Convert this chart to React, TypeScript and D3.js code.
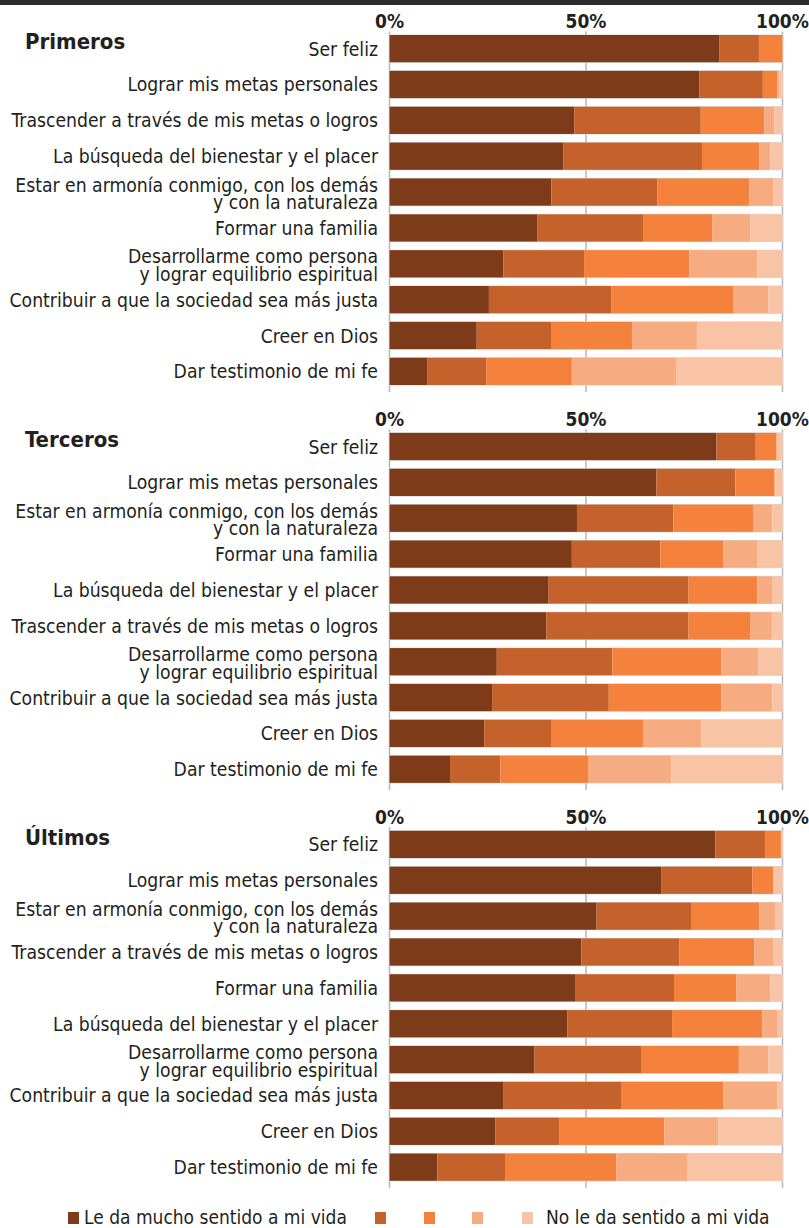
import React from 'react'
import * as d3 from 'd3'

const WIDTH = 809
const HEIGHT = 1228

const legendLabels = ['Le da mucho sentido a mi vida', '', '', '', 'No le da sentido a mi vida']
const colors = ['#7e3b1a', '#c5612a', '#f4823c', '#f6ab80', '#f9c4a5']
const tickValues = [0, 50, 100]

const panelTitles = ['Primeros', 'Terceros', 'Últimos']

const primerosLabels = [
  'Ser feliz',
  'Lograr mis metas personales',
  'Trascender a través de mis metas o logros',
  'La búsqueda del bienestar y el placer',
  'Estar en armonía conmigo, con los demás\ny con la naturaleza',
  'Formar una familia',
  'Desarrollarme como persona\ny lograr equilibrio espiritual',
  'Contribuir a que la sociedad sea más justa',
  'Creer en Dios',
  'Dar testimonio de mi fe',
]
const primerosValues = [
  [84, 10, 6, 0, 0],
  [78.8, 16.2, 3.7, 0.5, 0.8],
  [47, 32.2, 16.2, 2.5, 2.1],
  [44.2, 35.3, 14.6, 2.8, 3.1],
  [41.2, 27, 23.4, 6.1, 2.3],
  [37.7, 26.8, 17.7, 9.7, 8.1],
  [29, 20.5, 26.8, 17.3, 6.4],
  [25.3, 31.2, 30.9, 9, 3.6],
  [22.2, 18.9, 20.6, 16.6, 21.7],
  [9.7, 14.9, 21.8, 26.5, 27.1],
]

const tercerosLabels = [
  'Ser feliz',
  'Lograr mis metas personales',
  'Estar en armonía conmigo, con los demás\ny con la naturaleza',
  'Formar una familia',
  'La búsqueda del bienestar y el placer',
  'Trascender a través de mis metas o logros',
  'Desarrollarme como persona\ny lograr equilibrio espiritual',
  'Contribuir a que la sociedad sea más justa',
  'Creer en Dios',
  'Dar testimonio de mi fe',
]
const tercerosValues = [
  [83.2, 10, 5.2, 0.4, 1.2],
  [67.9, 20.1, 10, 0, 2],
  [47.7, 24.5, 20.3, 4.9, 2.6],
  [46.4, 22.5, 16, 8.8, 6.3],
  [40.5, 35.6, 17.5, 3.9, 2.5],
  [39.9, 36.2, 15.8, 5.4, 2.7],
  [27.3, 29.4, 27.7, 9.4, 6.2],
  [26.1, 29.7, 28.6, 13, 2.6],
  [24.1, 17, 23.4, 14.8, 20.7],
  [15.4, 12.8, 22.3, 21.2, 28.3],
]

const ultimosLabels = [
  'Ser feliz',
  'Lograr mis metas personales',
  'Estar en armonía conmigo, con los demás\ny con la naturaleza',
  'Trascender a través de mis metas o logros',
  'Formar una familia',
  'La búsqueda del bienestar y el placer',
  'Desarrollarme como persona\ny lograr equilibrio espiritual',
  'Contribuir a que la sociedad sea más justa',
  'Creer en Dios',
  'Dar testimonio de mi fe',
]
const ultimosValues = [
  [82.9, 12.8, 3.9, 0, 0.4],
  [69.1, 23.2, 5.3, 0, 2.4],
  [52.7, 24.2, 17.2, 4, 1.9],
  [48.8, 25, 19, 4.8, 2.4],
  [47.2, 25.2, 15.9, 8.6, 3.1],
  [45.3, 26.6, 22.9, 3.8, 1.4],
  [36.9, 27.1, 24.9, 7.5, 3.6],
  [28.9, 30.2, 25.8, 13.8, 1.3],
  [26.9, 16.4, 26.6, 13.8, 16.3],
  [12.2, 17.2, 28.3, 18, 24.3],
]

const FONT = '"Liberation Sans Narrow", "DejaVu Sans Condensed", "Roboto Condensed", "Liberation Sans", sans-serif'

const panels = [
  { title: panelTitles[0], labels: primerosLabels, values: primerosValues },
  { title: panelTitles[1], labels: tercerosLabels, values: tercerosValues },
  { title: panelTitles[2], labels: ultimosLabels, values: ultimosValues },
]

const x = d3.scaleLinear().domain([0, 1]).range([389.5, 782.5])
const xPct = d3.scaleLinear().domain([0, 100]).range([389.5, 782.5])

const Panel: React.FC<{ title: string; labels: string[]; values: number[][]; top: number }> = ({
  title,
  labels,
  values,
  top,
}) => {
  const rows = values.map((v, i) => ({ label: labels[i], v }))
  const keys = d3.range(5)
  const stack = d3
    .stack<{ label: string; v: number[] }, number>()
    .keys(keys)
    .value((d, k) => d.v[k])
    .offset(d3.stackOffsetExpand)
  const series = stack(rows)

  const y = d3
    .scaleBand()
    .domain(labels)
    .range([top, top + 358.6])
    .paddingInner(0.24)
    .paddingOuter(0.12)

  const firstBar = y(labels[0]) as number
  const lastBottom = (y(labels[labels.length - 1]) as number) + y.bandwidth()

  return (
    <g>
      <text x={25} y={firstBar + 14} fontFamily={FONT} fontWeight="bold" fontSize={22} fill="#231f20">
        {title}
      </text>
      {tickValues.map((t) => (
        <g key={t}>
          <line
            x1={xPct(t)}
            x2={xPct(t)}
            y1={firstBar - 3.5}
            y2={lastBottom + 7}
            stroke="#b3b7bb"
            strokeWidth={1.5}
          />
          <text
            x={xPct(t)}
            y={firstBar - 7}
            textAnchor="middle"
            fontFamily={FONT}
            fontWeight="bold"
            fontSize={19}
            fill="#231f20"
          >
            {t}%
          </text>
        </g>
      ))}
      {rows.map((r) => (
        <rect
          key={'bg' + r.label}
          x={x(0)}
          y={y(r.label)}
          width={x(1) - x(0)}
          height={y.bandwidth()}
          fill="none"
          stroke="#d4d4d4"
          strokeWidth={1}
        />
      ))}
      {series.map((s, si) => (
        <g key={si} fill={colors[si]}>
          {s.map((d) => (
            <rect
              key={d.data.label}
              x={x(d[0])}
              y={y(d.data.label)}
              width={Math.max(0, x(d[1]) - x(d[0]))}
              height={y.bandwidth()}
            />
          ))}
        </g>
      ))}
      {rows.map((r) => {
        const lines = r.label.split('\n')
        const cy = (y(r.label) as number) + y.bandwidth() / 2
        return (
          <text
            key={'lb' + r.label}
            x={378}
            textAnchor="end"
            fontFamily={FONT}
            fontSize={19.2}
            fill="#231f20"
          >
            {lines.map((ln, li) =>
              lines.length === 1 ? (
                <tspan key={li} x={378} y={cy + 7}>
                  {ln}
                </tspan>
              ) : (
                <tspan key={li} x={378} y={cy - 0.5 + li * 17.5}>
                  {ln}
                </tspan>
              ),
            )}
          </text>
        )
      })}
    </g>
  )
}

const legendSquares = [68, 375, 424, 472, 522]
const legendTextX = [84, 0, 0, 0, 546]

export default function App() {
  return (
    <svg
      width={WIDTH}
      height={HEIGHT}
      style={{ position: 'absolute', left: 0, top: 0, background: '#fff' }}
    >
      <rect x={0} y={0} width={WIDTH} height={HEIGHT} fill="#fff" />
      <rect x={0} y={0} width={WIDTH} height={5} fill="#2b2b2b" />
      {panels.map((p, i) => (
        <Panel key={p.title} title={p.title} labels={p.labels} values={p.values} top={30.7 + i * 397.9} />
      ))}
      {legendLabels.map((l, i) => (
        <g key={i}>
          <rect x={legendSquares[i]} y={1212} width={11} height={12} fill={colors[i]} />
          {l && (
            <text x={legendTextX[i]} y={1224} fontFamily={FONT} fontSize={19} fill="#231f20">
              {l}
            </text>
          )}
        </g>
      ))}
    </svg>
  )
}
